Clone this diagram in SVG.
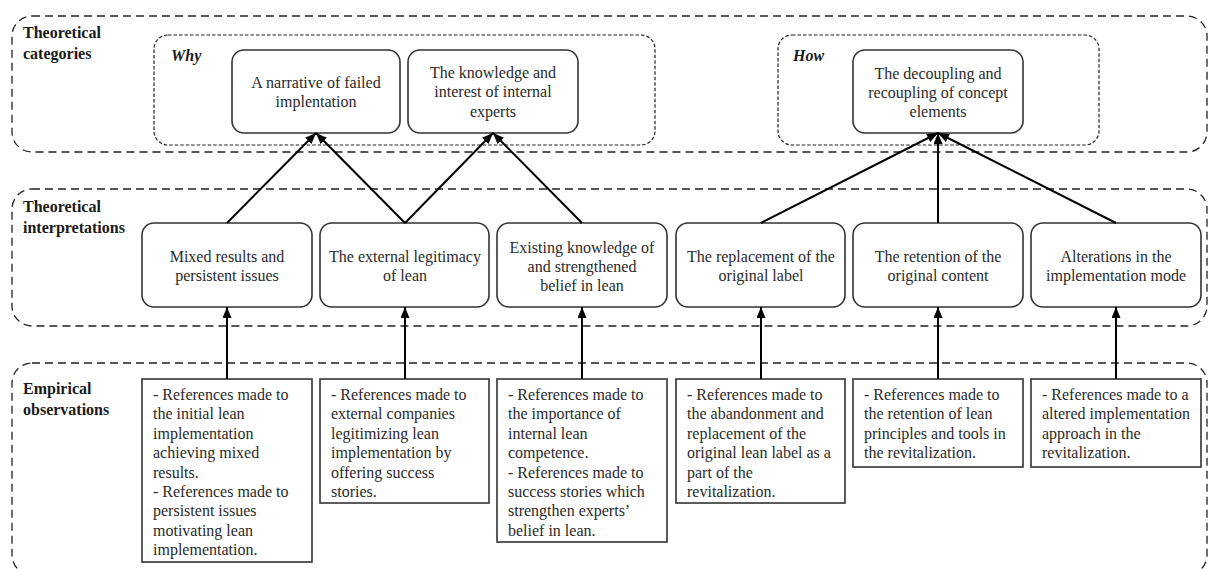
<svg xmlns="http://www.w3.org/2000/svg" width="1209" height="569" viewBox="0 0 1209 569">
<style>
.band{fill:none;stroke:#222;stroke-width:1.3;stroke-dasharray:8 5}
.grp{fill:none;stroke:#222;stroke-width:1.2;stroke-dasharray:3.5 2}
.node{fill:#fff;stroke:#333;stroke-width:1.6}
.obs{fill:#fff;stroke:#333;stroke-width:1.6}
.lbl{font-family:"Liberation Serif","Times New Roman",serif;font-size:16px;font-weight:bold;fill:#1a1a1a}
.gl{font-family:"Liberation Serif","Times New Roman",serif;font-size:16px;font-weight:bold;font-style:italic;fill:#1a1a1a}
.t{font-family:"Liberation Serif","Times New Roman",serif;font-size:16px;fill:#2a2a2a;text-anchor:middle}
.o{font-family:"Liberation Serif","Times New Roman",serif;font-size:16px;fill:#2a2a2a}
.c{stroke:#000;stroke-width:2;fill:none;marker-end:url(#ah)}
</style>
<defs>
<marker id="ah" markerUnits="userSpaceOnUse" markerWidth="12" markerHeight="10" refX="11" refY="4.5" orient="auto">
<path d="M0,0 L11,4.5 L0,9 z" fill="#000"/>
</marker>
</defs>

<g id="bands">
<rect class="band" x="12" y="16" width="1195" height="136" rx="20"/>
<rect class="band" x="12" y="189" width="1195" height="137" rx="20"/>
<rect class="band" x="12" y="363" width="1195" height="212" rx="20"/>
<text class="lbl" x="23" y="38">Theoretical</text>
<text class="lbl" x="23" y="59">categories</text>
<text class="lbl" x="23" y="212">Theoretical</text>
<text class="lbl" x="23" y="233">interpretations</text>
<text class="lbl" x="23" y="394">Empirical</text>
<text class="lbl" x="23" y="415">observations</text>
</g>

<g id="why">
<rect class="grp" x="154" y="35" width="501" height="110" rx="14"/>
<text class="gl" x="171" y="61">Why</text>
</g>
<g id="how">
<rect class="grp" x="778" y="35" width="321" height="110" rx="14"/>
<text class="gl" x="793" y="61">How</text>
</g>

<g id="cat1">
<rect class="node" x="232" y="50" width="168" height="83" rx="12"/>
<text class="t" x="316" y="88">A narrative of failed</text>
<text class="t" x="316" y="107">implentation</text>
</g>
<g id="cat2">
<rect class="node" x="408" y="50" width="170" height="83" rx="12"/>
<text class="t" x="493" y="78">The knowledge and</text>
<text class="t" x="493" y="97">interest of internal</text>
<text class="t" x="493" y="117">experts</text>
</g>
<g id="cat3">
<rect class="node" x="853" y="50" width="170" height="83" rx="12"/>
<text class="t" x="938" y="79">The decoupling and</text>
<text class="t" x="938" y="98">recoupling of concept</text>
<text class="t" x="938" y="117">elements</text>
</g>

<g id="int1">
<rect class="node" x="142" y="223" width="170" height="84" rx="12"/>
<text class="t" x="227" y="262">Mixed results and</text>
<text class="t" x="227" y="281">persistent issues</text>
</g>
<g id="int2">
<rect class="node" x="320" y="223" width="169" height="84" rx="12"/>
<text class="t" x="405" y="262">The external legitimacy</text>
<text class="t" x="405" y="281">of lean</text>
</g>
<g id="int3">
<rect class="node" x="497" y="223" width="170" height="84" rx="12"/>
<text class="t" x="582" y="253">Existing knowledge of</text>
<text class="t" x="582" y="272">and strengthened</text>
<text class="t" x="582" y="291">belief in lean</text>
</g>
<g id="int4">
<rect class="node" x="676" y="223" width="169" height="84" rx="12"/>
<text class="t" x="761" y="262">The replacement of the</text>
<text class="t" x="761" y="281">original label</text>
</g>
<g id="int5">
<rect class="node" x="853" y="223" width="170" height="84" rx="12"/>
<text class="t" x="938" y="262">The retention of the</text>
<text class="t" x="938" y="281">original content</text>
</g>
<g id="int6">
<rect class="node" x="1031" y="223" width="170" height="84" rx="12"/>
<text class="t" x="1116" y="262">Alterations in the</text>
<text class="t" x="1116" y="281">implementation mode</text>
</g>

<g id="obs1">
<rect class="obs" x="142" y="379" width="170" height="183"/>
<text class="o" x="153" y="400">- References made to</text>
<text class="o" x="153" y="419.4">the initial lean</text>
<text class="o" x="153" y="438.8">implementation</text>
<text class="o" x="153" y="458.2">achieving mixed</text>
<text class="o" x="153" y="477.6">results.</text>
<text class="o" x="153" y="497">- References made to</text>
<text class="o" x="153" y="516.4">persistent issues</text>
<text class="o" x="153" y="535.8">motivating lean</text>
<text class="o" x="153" y="555.2">implementation.</text>
</g>
<g id="obs2">
<rect class="obs" x="320" y="379" width="169" height="124"/>
<text class="o" x="331" y="400">- References made to</text>
<text class="o" x="331" y="419.4">external companies</text>
<text class="o" x="331" y="438.8">legitimizing lean</text>
<text class="o" x="331" y="458.2">implementation by</text>
<text class="o" x="331" y="477.6">offering success</text>
<text class="o" x="331" y="497">stories.</text>
</g>
<g id="obs3">
<rect class="obs" x="497" y="379" width="170" height="163"/>
<text class="o" x="508" y="400">- References made to</text>
<text class="o" x="508" y="419.4">the importance of</text>
<text class="o" x="508" y="438.8">internal lean</text>
<text class="o" x="508" y="458.2">competence.</text>
<text class="o" x="508" y="477.6">- References made to</text>
<text class="o" x="508" y="497">success stories which</text>
<text class="o" x="508" y="516.4">strengthen experts’</text>
<text class="o" x="508" y="535.8">belief in lean.</text>
</g>
<g id="obs4">
<rect class="obs" x="676" y="379" width="169" height="124"/>
<text class="o" x="687" y="400">- References made to</text>
<text class="o" x="687" y="419.4">the abandonment and</text>
<text class="o" x="687" y="438.8">replacement of the</text>
<text class="o" x="687" y="458.2">original lean label as a</text>
<text class="o" x="687" y="477.6">part of the</text>
<text class="o" x="687" y="497">revitalization.</text>
</g>
<g id="obs5">
<rect class="obs" x="853" y="379" width="170" height="88"/>
<text class="o" x="864" y="400">- References made to</text>
<text class="o" x="864" y="419.4">the retention of lean</text>
<text class="o" x="864" y="438.8">principles and tools in</text>
<text class="o" x="864" y="458.2">the revitalization.</text>
</g>
<g id="obs6">
<rect class="obs" x="1031" y="379" width="170" height="88"/>
<text class="o" x="1042" y="400">- References made to a</text>
<text class="o" x="1042" y="419.4">altered implementation</text>
<text class="o" x="1042" y="438.8">approach in the</text>
<text class="o" x="1042" y="458.2">revitalization.</text>
</g>

<g id="connectors">
<line class="c" x1="227" y1="379" x2="227" y2="307"/>
<line class="c" x1="405" y1="379" x2="405" y2="307"/>
<line class="c" x1="582" y1="379" x2="582" y2="307"/>
<line class="c" x1="761" y1="379" x2="761" y2="307"/>
<line class="c" x1="938" y1="379" x2="938" y2="307"/>
<line class="c" x1="1116" y1="379" x2="1116" y2="307"/>
<line class="c" x1="227" y1="223" x2="316" y2="133"/>
<line class="c" x1="405" y1="223" x2="316" y2="133"/>
<line class="c" x1="405" y1="223" x2="493" y2="133"/>
<line class="c" x1="582" y1="223" x2="493" y2="133"/>
<line class="c" x1="761" y1="223" x2="938" y2="133"/>
<line class="c" x1="938" y1="223" x2="938" y2="133"/>
<line class="c" x1="1116" y1="223" x2="938" y2="133"/>
</g>
</svg>
